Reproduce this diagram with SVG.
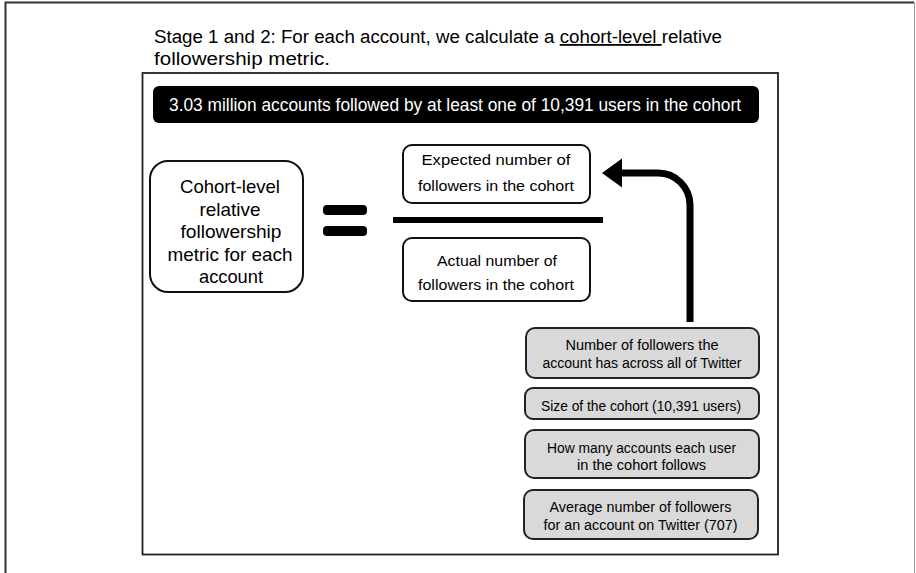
<svg xmlns="http://www.w3.org/2000/svg" width="916" height="573" viewBox="0 0 916 573">
<defs>
<style>
.t{font-family:"Liberation Sans",Arial,sans-serif;fill:#000}
.c{text-anchor:middle}
.wb{fill:#fff;stroke:#111;stroke-width:2}
.gb{fill:#d9d9d9;stroke:#222;stroke-width:2}
.lbl{font-size:19px}
.sm{font-size:14.5px}
.gs{font-size:14px}
</style>
<marker id="ah" markerUnits="userSpaceOnUse" markerWidth="24" markerHeight="32" refX="2" refY="16" orient="auto" viewBox="0 0 24 32">
<path d="M22,16 L2,1.5 L2,30.5 Z" fill="#000"/>
</marker>
</defs>
<rect width="916" height="573" fill="#fff"/>
<path d="M5.5,573 V2.5 H914" fill="none" stroke="#333" stroke-width="2"/>
<path d="M914.5,2.5 V573" fill="none" stroke="#999" stroke-width="1"/>

<g id="title">
<text class="t" x="154" y="43" font-size="18" textLength="568" lengthAdjust="spacingAndGlyphs">Stage 1 and 2: For each account, we calculate a <tspan text-decoration="underline">cohort-level </tspan>relative</text>
<text class="t" x="154" y="65" font-size="18" textLength="176" lengthAdjust="spacingAndGlyphs">followership metric.</text>
</g>

<g id="frame">
<rect x="142.5" y="73" width="635.5" height="481.5" fill="none" stroke="#222" stroke-width="1.8"/>
</g>

<g id="header">
<rect x="153" y="86" width="606" height="37" rx="6" fill="#000"/>
<text class="t c" x="455" y="111" font-size="17.5" style="fill:#fff" textLength="572" lengthAdjust="spacingAndGlyphs">3.03 million accounts followed by at least one of 10,391 users in the cohort</text>
</g>

<g id="metric">
<rect class="wb" x="150" y="161" width="153" height="131" rx="18"/>
<text class="t c lbl" x="230" y="193" textLength="100" lengthAdjust="spacingAndGlyphs">Cohort-level</text>
<text class="t c lbl" x="230" y="215.5" textLength="61" lengthAdjust="spacingAndGlyphs">relative</text>
<text class="t c lbl" x="231" y="238" textLength="101" lengthAdjust="spacingAndGlyphs">followership</text>
<text class="t c lbl" x="230" y="260.5" textLength="125" lengthAdjust="spacingAndGlyphs">metric for each</text>
<text class="t c lbl" x="231" y="283" textLength="64" lengthAdjust="spacingAndGlyphs">account</text>
</g>

<g id="equals">
<rect x="323" y="205" width="44" height="10" rx="4" fill="#000"/>
<rect x="323" y="226" width="44" height="10" rx="4" fill="#000"/>
</g>

<g id="fraction-line">
<rect x="393" y="217" width="210" height="6" fill="#000"/>
</g>

<g id="expected">
<rect class="wb" x="403" y="145" width="187" height="58" rx="9"/>
<text class="t c sm" x="496" y="165" textLength="149" lengthAdjust="spacingAndGlyphs">Expected number of</text>
<text class="t c sm" x="496" y="191" textLength="156" lengthAdjust="spacingAndGlyphs">followers in the cohort</text>
</g>

<g id="actual">
<rect class="wb" x="403" y="238" width="187" height="63" rx="9"/>
<text class="t c sm" x="497" y="266" textLength="120" lengthAdjust="spacingAndGlyphs">Actual number of</text>
<text class="t c sm" x="496" y="290" textLength="156" lengthAdjust="spacingAndGlyphs">followers in the cohort</text>
</g>

<g id="connectors">
<path d="M690,322 V205 A32,32 0 0 0 658,173 H622" fill="none" stroke="#000" stroke-width="7" marker-end="url(#ah)"/>
</g>

<g id="followers-total">
<rect class="gb" x="526" y="328" width="233" height="50" rx="9"/>
<text class="t c gs" x="642" y="350" textLength="153" lengthAdjust="spacingAndGlyphs">Number of followers the</text>
<text class="t c gs" x="642" y="368" textLength="199" lengthAdjust="spacingAndGlyphs">account has across all of Twitter</text>
</g>

<g id="cohort-size">
<rect class="gb" x="525" y="388" width="234" height="31" rx="8"/>
<text class="t c gs" x="641" y="411" textLength="200" lengthAdjust="spacingAndGlyphs">Size of the cohort (10,391 users)</text>
</g>

<g id="accounts-followed">
<rect class="gb" x="525" y="430" width="234" height="48" rx="9"/>
<text class="t c gs" x="641.5" y="453" textLength="189" lengthAdjust="spacingAndGlyphs">How many accounts each user</text>
<text class="t c gs" x="641.5" y="470" textLength="129" lengthAdjust="spacingAndGlyphs">in the cohort follows</text>
</g>

<g id="average-followers">
<rect class="gb" x="524" y="490" width="234" height="49" rx="9"/>
<text class="t c gs" x="640.5" y="512" textLength="182" lengthAdjust="spacingAndGlyphs">Average number of followers</text>
<text class="t c gs" x="640.5" y="530" textLength="194" lengthAdjust="spacingAndGlyphs">for an account on Twitter (707)</text>
</g>
</svg>
